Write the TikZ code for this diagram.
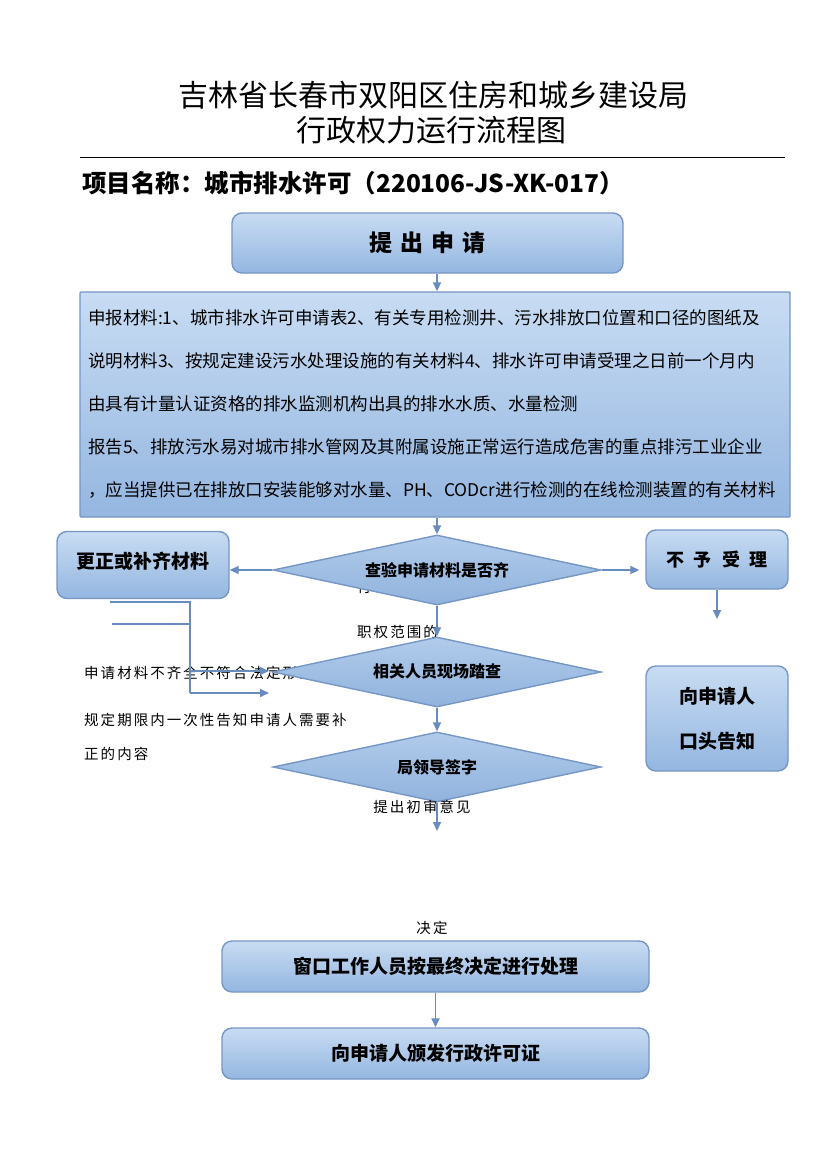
\documentclass[tikz,border=0pt]{standalone}
\usepackage{fontspec}
\setmainfont{Noto Sans CJK SC}
\usetikzlibrary{arrows.meta,positioning,shapes.geometric}
\definecolor{flowtop}{RGB}{200,220,243}
\definecolor{flowbot}{RGB}{148,182,224}
\definecolor{flowedge}{RGB}{118,150,196}
\definecolor{flowarr}{RGB}{104,140,190}

\begin{document}
\begin{tikzpicture}[
      x=1pt, y=-1pt,
      box/.style={rounded corners=10pt, draw=flowedge, line width=1.4pt, top color=flowtop, bottom color=flowbot, align=center, inner sep=0pt},
      check/.style={diamond, shape aspect=4.7, draw=flowedge, line width=1.4pt, top color=flowtop!55!flowbot, bottom color=flowbot!90!flowedge, minimum width=328pt, minimum height=70pt, inner sep=0pt, font=\bfseries\fontsize{16}{18}\selectfont},
      note/.style={anchor=west, inner sep=0pt, font=\fontsize{14.5}{16}\selectfont\addfontfeatures{LetterSpace=14}},
      arr/.style={-{Triangle[length=9pt,width=8pt]}, line width=1.8pt, color=flowarr}
    ]
      \useasboundingbox (0,0) rectangle (827,1169);

      % heading
      \node[font=\fontsize{30}{32}\selectfont] (title1) at (433,95) {吉林省长春市双阳区住房和城乡建设局};
      \node[font=\fontsize{30}{32}\selectfont] (title2) at (431,130) {行政权力运行流程图};
      \draw[line width=0.8pt] (80,157) -- (785,157);
      \node[anchor=west, inner sep=0pt, font=\bfseries\fontsize{24.5}{26}\selectfont] (project) at (82,183) {项目名称：城市排水许可（220106-JS-XK-017）};

      % main column
      \node[box, minimum width=391pt, minimum height=60pt, font=\bfseries\fontsize{23}{25}\selectfont] (apply) at (427.5,243) {提\hspace{8pt}出\hspace{8pt}申\hspace{8pt}请};

      \node[box, rounded corners=1pt, minimum width=710pt, minimum height=225pt, inner xsep=8pt, text width=694pt, align=left,
            font=\fontsize{17.5}{43}\selectfont] (material) at (435,404.5) {%
        申报材料:1、城市排水许可申请表2、有关专用检测井、污水排放口位置和口径的图纸及\\
        说明材料3、按规定建设污水处理设施的有关材料4、排水许可申请受理之日前一个月内\\
        由具有计量认证资格的排水监测机构出具的排水水质、水量检测\\
        报告5、排放污水易对城市排水管网及其附属设施正常运行造成危害的重点排污工业企业\\
        ，应当提供已在排放口安装能够对水量、PH、CODcr进行检测的在线检测装置的有关材料};

      % texts lying behind the diamonds
      \node[note] (scope1) at (357,587) {行政};
      \node[note] (scope2) at (357,632) {职权范围的};
      \node[note] (reason1) at (84,673) {申请材料不齐全不符合法定形式的};
      \node[note] (reason2) at (84,720) {规定期限内一次性告知申请人需要补};
      \node[note] (reason3) at (84,754) {正的内容};

      \node[check] (verify) at (437,570) {\raisebox{-6pt}{查验申请材料是否齐}};
      \node[check] (inspect) at (437,672) {\raisebox{-5pt}{相关人员现场踏查}};
      \node[check] (sign) at (437,767) {\raisebox{-6pt}{局领导签字}};

      \node[box, minimum width=172pt, minimum height=67pt, font=\bfseries\fontsize{19}{21}\selectfont] (amend) at (143,565) {\raisebox{10pt}{更正或补齐材料}};
      \node[box, minimum width=142pt, minimum height=59pt, font=\bfseries\fontsize{18}{20}\selectfont] (reject) at (717,559.5) {不\hspace{10pt}予\hspace{10pt}受\hspace{10pt}理};
      \node[box, minimum width=142pt, minimum height=105pt, font=\bfseries\fontsize{19}{45}\selectfont] (oral) at (717,718.5) {向申请人\\口头告知};

      \node[box, minimum width=427pt, minimum height=51pt, font=\bfseries\fontsize{19}{21}\selectfont] (handle) at (435.5,966.5) {窗口工作人员按最终决定进行处理};
      \node[box, minimum width=427pt, minimum height=51pt, font=\bfseries\fontsize{19}{21}\selectfont] (issue) at (435.5,1053.5) {向申请人颁发行政许可证};

      \node[note, anchor=center] (opinion) at (422,807) {提出初审意见};
      \node[note, anchor=center] (decide) at (432,928) {决定};

      % free ends
      \coordinate (rejectEnd) at (717,619);
      \coordinate (signEnd) at (437,831);
      \coordinate (barA) at (110,602);
      \coordinate (barB) at (112,624);
      \coordinate (bend) at (190,602);
      \coordinate (tipA) at (269,671);
      \coordinate (tipB) at (269,693);

      % connectors
      \draw[arr] (verify |- apply.south) -- (verify |- material.north);
      \draw[arr] (material.south -| verify) -- (verify.north);
      \draw[arr] (verify.west) -- (verify.west -| amend.east);
      \draw[arr, shorten >=6pt] (verify.east) -- (verify.east -| reject.west);
      \draw[arr] (reject.south) -- (rejectEnd);
      \draw[arr] (verify.south) -- (inspect.north);
      \draw[arr] (inspect.south) -- (sign.north);
      \draw[arr] (sign.south) -- (signEnd);
      \draw[arr] (handle.south) -- (issue.north);
      \draw[line width=1.8pt, color=flowarr] (barA) -- (bend) -- (bend |- tipB);
      \draw[line width=1.8pt, color=flowarr] (barB) -- (barB -| bend);
      \draw[arr] (bend |- tipA) -- (tipA);
      \draw[arr] (bend |- tipB) -- (tipB);
    \end{tikzpicture}
\end{document}
